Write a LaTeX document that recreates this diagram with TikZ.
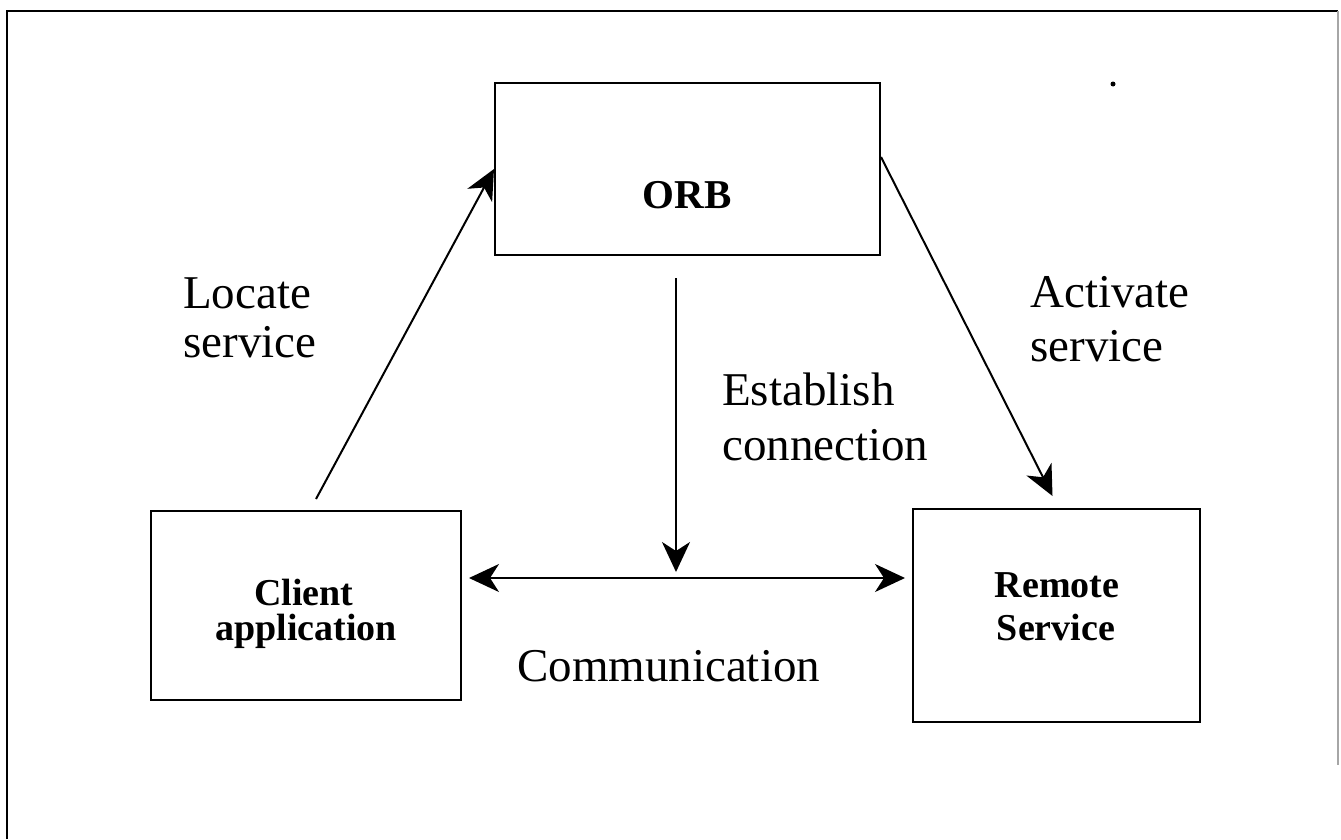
\documentclass[tikz,border=0pt]{standalone}
\usepackage{fontspec}
\setmainfont{Liberation Serif}
\usetikzlibrary{arrows.meta}
\begin{document}
\begin{tikzpicture}[x=1pt,y=-1pt,
  box/.style={draw, line width=2pt, inner sep=0pt},
  lbl/.style={font=\fontsize{47}{55}\selectfont, anchor=base west, inner sep=0pt},
  blbl/.style={font=\bfseries\fontsize{38}{44}\selectfont, anchor=base, inner sep=0pt},
  orbl/.style={font=\bfseries\fontsize{41}{48}\selectfont, anchor=base, inner sep=0pt},
  arr/.style={line width=2pt, -{Stealth[length=30pt,width=28pt,inset=9pt]}},
  dbl/.style={line width=2pt, {Stealth[length=30pt,width=28pt,inset=9pt]}-{Stealth[length=30pt,width=28pt,inset=9pt]}}
]
\useasboundingbox (0,0) rectangle (1341,839);
\fill[white] (0,0) rectangle (1341,839);
% outer frame
\draw[line width=2.5pt] (7,839) -- (7,11) -- (1338,11);
\draw[line width=1.5pt, gray!70] (1338,11) -- (1338,765);
\fill (1113,84) circle (2.5pt);

% boxes
\node[box, minimum width=385pt, minimum height=172pt] (orb) at (687.5,169) {};
\node[box, minimum width=310pt, minimum height=189pt] (client) at (306,605.5) {};
\node[box, minimum width=287pt, minimum height=213pt] (remote) at (1056.5,615.5) {};

% box texts
\node[orbl] (orbt) at (687,208) {ORB};
\node[blbl] (clientt1) at (304,605) {Client};
\node[blbl] (clientt2) at (306,640) {application};
\node[blbl] (remotet1) at (1057,597) {Remote};
\node[blbl] (remotet2) at (1056,640) {Service};

% labels
\node[lbl] (loc1) at (183,308) {Locate};
\node[lbl] (loc2) at (183,357) {service};
\node[lbl] (act1) at (1030,307) {Activate};
\node[lbl] (act2) at (1030,361) {service};
\node[lbl] (est1) at (722,405) {Establish};
\node[lbl] (est2) at (722,460) {connection};
\node[lbl] (comm) at (517,681) {Communication};

% connectors
\coordinate (locS) at ([shift={(10,-11)}]client.north);
\draw[arr] (locS) -- (orb.west);
\coordinate (actS) at ([shift={(0,-12)}]orb.east);
\coordinate (actE) at ([shift={(-4,-12)}]remote.north);
\draw[arr] (actS) -- (actE);
\coordinate (estS) at (676,278);
\coordinate (estE) at (676,572);
\draw[arr] (estS) -- (estE);
\coordinate (comL) at (469,578);
\coordinate (comR) at (905,578);
\draw[dbl] (comL) -- (comR);
\end{tikzpicture}
\end{document}
